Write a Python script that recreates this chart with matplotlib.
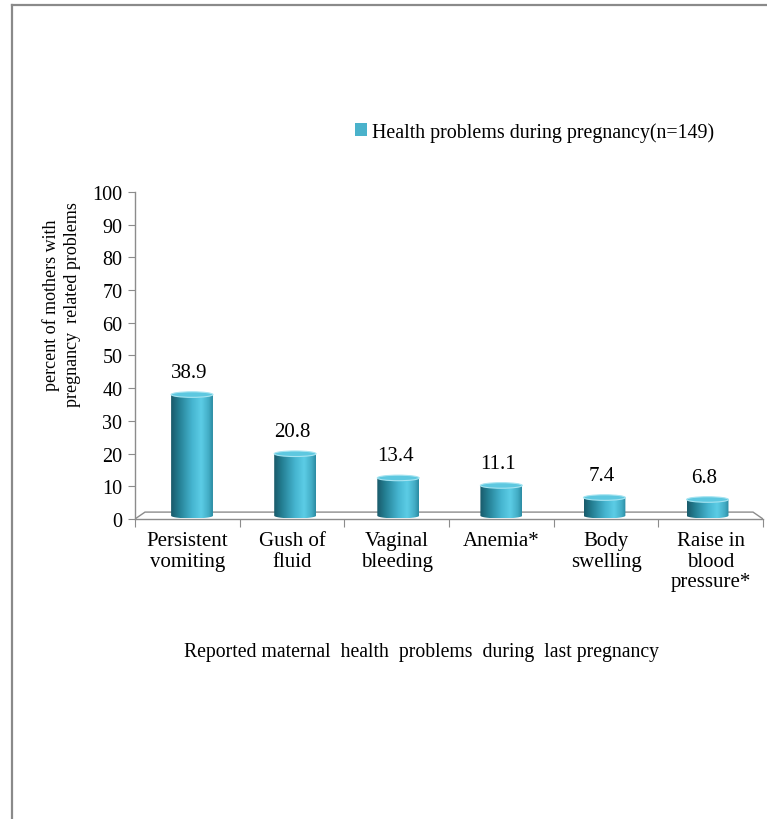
import numpy as np
import matplotlib
matplotlib.use('Agg')
import matplotlib.pyplot as plt
from matplotlib.colors import LinearSegmentedColormap
from matplotlib.patches import Ellipse, Polygon, Rectangle
from matplotlib.lines import Line2D

plt.rcParams['font.family'] = ['Liberation Serif', 'DejaVu Serif']

# data
categories = ['Persistent\nvomiting', 'Gush of\nfluid', 'Vaginal\nbleeding',
              'Anemia*', 'Body\nswelling', 'Raise in\nblood\npressure*']
values = [38.9, 20.8, 13.4, 11.1, 7.4, 6.8]
series_name = 'Health problems during pregnancy(n=149)'
y_label = 'percent of mothers with\npregnancy  related problems'
x_label = 'Reported maternal  health  problems  during  last pregnancy'

axis_grey = '#8c8c8c'
cyl = LinearSegmentedColormap.from_list('cyl', [
    (0.0, '#1a5a6a'), (0.18, '#237d91'), (0.5, '#45b4cf'),
    (0.72, '#5ccde6'), (0.9, '#43adc6'), (1.0, '#2b8ba2')])

fig = plt.figure(figsize=(7.67, 8.2), dpi=100)
ax = fig.add_axes([0.176, 0.3659, 0.8188, 0.3987])

# outer frame of the original picture (top and left only)
fig.add_artist(Line2D([12 / 767, 12 / 767], [0, 1 - 6 / 820], transform=fig.transFigure,
                      color='#8a8a8a', lw=1.6))
fig.add_artist(Line2D([12 / 767, 1], [1 - 6 / 820, 1 - 6 / 820], transform=fig.transFigure,
                      color='#8a8a8a', lw=1.6))

n = len(values)
# the back plane sits a bit to the right (fake 3-D depth)
pos = np.arange(n) * 0.985 + 0.045
bw = 0.40
eh = 1.7      # ellipse height in data units
base = 1.0

# 3-D floor outline
dx = 10 / 104.6
floor = Polygon([(-0.5, 0), (-0.5 + dx, 2.1), (n - 0.5 - dx, 2.1), (n - 0.5, 0)],
                closed=False, fill=False, edgecolor=axis_grey, lw=1.0, zorder=1)
ax.add_patch(floor)

grad = np.linspace(0, 1, 200).reshape(1, -1)
for x, v in zip(pos, values):
    x0, x1 = x - bw / 2, x + bw / 2
    ytop = v - eh / 2
    t = np.linspace(np.pi, 2 * np.pi, 60)
    arc = np.column_stack([x + bw / 2 * np.cos(t), base + eh / 2 * np.sin(t)])
    outline = np.vstack([[x0, ytop], arc, [x1, ytop]])
    clip = Polygon(outline, closed=True, transform=ax.transData, facecolor='none',
                   edgecolor='none')
    ax.add_patch(clip)
    im = ax.imshow(grad, cmap=cyl, extent=[x0, x1, base - eh / 2, ytop],
                   aspect='auto', zorder=2, interpolation='bicubic')
    im.set_clip_path(clip)
    ax.add_patch(Ellipse((x, ytop), bw, eh, facecolor='#5ec8e0', edgecolor='#a6e4f1',
                         lw=0.8, zorder=3))
    ax.text(x - 0.03, v + 3.0, f'{v:.1f}', ha='center', va='bottom', fontsize=15,
            zorder=4)

ax.set_xlim(-0.5, n - 0.5)
ax.set_ylim(0, 100)
ax.set_yticks(range(0, 101, 10))
ax.set_xticks(np.arange(-0.5, n, 1.0))
ax.set_xticklabels([])
ax.set_xticks(np.arange(n), minor=True)
ax.set_xticklabels(categories, minor=True, fontsize=15, linespacing=1.1)
ax.tick_params(axis='x', which='minor', length=0, pad=9)
ax.tick_params(axis='x', which='major', length=6, color=axis_grey, direction='out')
ax.tick_params(axis='y', length=5, color=axis_grey, direction='out', labelsize=14.5, pad=4)

for s in ['top', 'right']:
    ax.spines[s].set_visible(False)
for s in ['left', 'bottom']:
    ax.spines[s].set_color(axis_grey)
    ax.spines[s].set_linewidth(1.0)

fig.text(62 / 767, 1 - 305 / 820, y_label, rotation=90, ha='center', va='center',
         fontsize=13, linespacing=1.3)
fig.text(421 / 767, 1 - 652 / 820, x_label, ha='center', va='center', fontsize=14.2)

handle = Rectangle((0, 0), 1, 1, facecolor='#4ab2cb', edgecolor='none')
fig.legend([handle], [series_name], loc='center left',
           bbox_to_anchor=(347 / 767, 1 - 133 / 820), frameon=False, fontsize=14.4,
           handlelength=0.6, handleheight=0.6, handletextpad=0.25, borderaxespad=0)

fig.savefig('out.png', dpi=100)
